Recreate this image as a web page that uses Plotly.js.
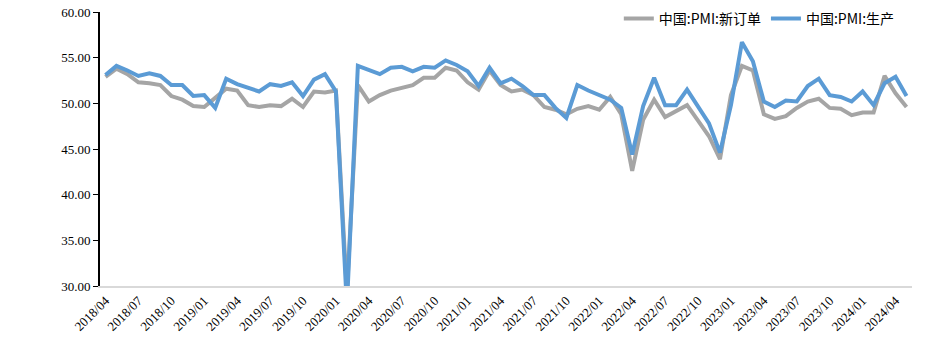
<!DOCTYPE html>
<html><head><meta charset="utf-8">
<script src="https://cdn.plot.ly/plotly-3.0.1.min.js"></script>
<style>html,body{margin:0;padding:0;background:#fff}#c{width:932px;height:352px}</style>
</head><body><div id="c"></div>
<script>
const months = [];
(function(){let y=2018,m=4;for(let i=0;i<74;i++){months.push(y+'/'+String(m).padStart(2,'0'));m++;if(m>12){m=1;y++;}}})();
const newOrders = [52.9,53.8,53.2,52.3,52.2,52.0,50.8,50.4,49.7,
 49.6,50.6,51.6,51.4,49.8,49.6,49.8,49.7,50.5,49.6,51.3,51.2,
 51.4,29.3,52.0,50.2,50.9,51.4,51.7,52.0,52.8,52.8,53.9,53.6,
 52.3,51.5,53.6,52.0,51.3,51.5,50.9,49.6,49.3,48.8,49.4,49.7,
 49.3,50.7,48.8,42.6,48.2,50.4,48.5,49.2,49.8,48.1,46.4,43.9,
 50.9,54.1,53.6,48.8,48.3,48.6,49.5,50.2,50.5,49.5,49.4,48.7,
 49.0,49.0,53.0,51.1,49.6];
const production = [53.1,54.1,53.6,53.0,53.3,53.0,52.0,52.0,50.8,
 50.9,49.5,52.7,52.1,51.7,51.3,52.1,51.9,52.3,50.8,52.6,53.2,
 51.3,27.8,54.1,53.7,53.2,53.9,54.0,53.5,54.0,53.9,54.7,54.2,
 53.5,51.9,53.9,52.2,52.7,51.9,50.9,50.9,49.5,48.4,52.0,51.4,
 50.9,50.4,49.5,44.4,49.7,52.8,49.8,49.8,51.5,49.6,47.8,44.6,
 49.8,56.7,54.6,50.2,49.6,50.3,50.2,51.9,52.7,50.9,50.7,50.2,
 51.3,49.8,52.2,52.9,50.8];
const tickLabels = months.filter((_,i)=>i%3===0);
const names = ['中国:PMI:新订单','中国:PMI:生产'];
const colors = ['#a5a5a5','#5b9bd5'];

const traces = [
 {x:months,y:newOrders,name:names[0],type:'scatter',mode:'lines',line:{color:colors[0],width:4}},
 {x:months,y:production,name:names[1],type:'scatter',mode:'lines',line:{color:colors[1],width:4}}
];
const serif = 'Liberation Serif, Times New Roman, serif';
const layout = {
 width:932,height:352,
 margin:{l:100,r:20,t:0,b:66,autoexpand:false},
 paper_bgcolor:'#fff',plot_bgcolor:'#fff',
 showlegend:true,
 legend:{orientation:'h',x:0.985,xanchor:'right',y:0.99,yanchor:'top',
   font:{family:'Noto Sans CJK SC, sans-serif',size:14,color:'#000'},
   bgcolor:'rgba(0,0,0,0)',traceorder:'normal'},
 xaxis:{type:'category',tickmode:'array',tickvals:tickLabels,ticktext:tickLabels,
   tickangle:-45,showgrid:false,zeroline:false,showline:true,linecolor:'#d9d9d9',linewidth:2,
   ticks:'',tickfont:{family:serif,size:13,color:'#000'},
   range:[-0.5,73.5]},
 yaxis:{range:[30,60],dtick:5,tickformat:'.2f',showgrid:false,zeroline:false,
   domain:[0,0.958],
   showline:true,linecolor:'#000',linewidth:2,ticks:'outside',ticklen:5,tickcolor:'#000',
   tickfont:{family:serif,size:13,color:'#000'}},
 font:{family:serif}
};
Plotly.newPlot('c',traces,layout,{displayModeBar:false,staticPlot:true});
</script></body></html>
